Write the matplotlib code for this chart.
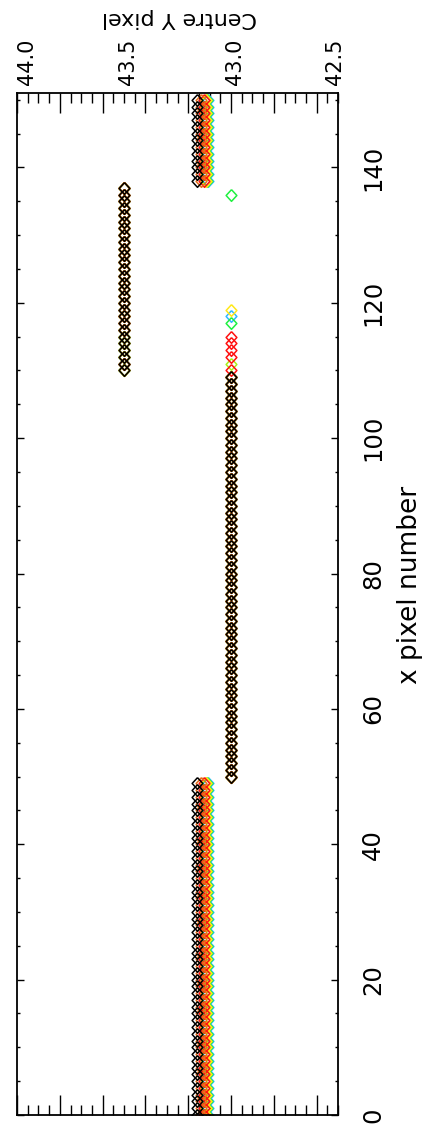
import numpy as np
import matplotlib
matplotlib.use("Agg")
import matplotlib.pyplot as plt
from matplotlib.ticker import MultipleLocator
from matplotlib.transforms import offset_copy

# Centre Y pixel per x pixel, stored as (first x, last x, centre value) runs
black_runs = [(0, 49, 43.16), (50, 109, 43.00), (110, 137, 43.50), (138, 150, 43.16)]
orange_runs = [(0, 49, 43.142), (50, 109, 43.00), (110, 137, 43.50), (138, 150, 43.142)]
red_runs = [(0, 49, 43.125), (50, 110, 43.00), (111, 111, 43.50), (112, 115, 43.00),
            (116, 137, 43.50), (138, 150, 43.125)]
yellow_runs = [(0, 49, 43.118), (50, 109, 43.00), (110, 118, 43.50), (119, 119, 43.00),
               (120, 137, 43.50), (138, 150, 43.118)]
yellowgreen_runs = [(0, 49, 43.115), (50, 109, 43.00), (110, 110, 43.50), (111, 111, 43.00),
                    (112, 137, 43.50), (138, 150, 43.115)]
green_runs = [(0, 49, 43.113), (50, 109, 43.00), (110, 116, 43.50), (117, 117, 43.00),
              (118, 135, 43.50), (136, 136, 43.00), (137, 137, 43.50), (138, 150, 43.113)]
cyan_runs = [(0, 49, 43.108), (50, 109, 43.00), (110, 117, 43.50), (118, 118, 43.00),
             (119, 137, 43.50), (138, 150, 43.108)]

series_names = ["cyan", "green", "yellowgreen", "yellow", "red", "orange", "black"]
series_runs = {"black": black_runs, "orange": orange_runs, "red": red_runs,
               "yellow": yellow_runs, "yellowgreen": yellowgreen_runs,
               "green": green_runs, "cyan": cyan_runs}
series_colors = {"black": "#000000", "orange": "#E8701A", "red": "#FF1010",
                 "yellow": "#FFE81A", "yellowgreen": "#A8F01A", "green": "#20F040",
                 "cyan": "#30B8FF"}

y_ticklabels = ["44.0", "43.5", "43.0", "42.5"]
y_label_values = [44.0, 43.5, 43.0, 42.5]
y_label_shift_px = [10, 4, 3.5, -3.5]


def expand(runs):
    xs, ys = [], []
    for first, last, value in runs:
        for xp in range(first, last + 1):
            xs.append(xp)
            ys.append(value)
    return np.array(xs), np.array(ys)


W, H = 424, 1131
fig = plt.figure(figsize=(W / 100, H / 100), dpi=100)
left, right, top, bottom = 17, 338, 93, 1115
ax = fig.add_axes([left / W, (H - bottom) / H, (right - left) / W, (bottom - top) / H])

# open diamonds, slightly taller than wide
diamond = [(0, 1.0), (0.92, 0), (0, -1.0), (-0.92, 0), (0, 1.0)]
for name in series_names:
    xp, cy = expand(series_runs[name])
    ax.plot(cy, xp, linestyle="none", marker=diamond, markersize=8.4,
            markerfacecolor="none", markeredgecolor=series_colors[name],
            markeredgewidth=1.1)

ax.set_xlim(44.0, 42.5)
ax.set_ylim(0, 151)

for s in ax.spines.values():
    s.set_linewidth(1.3)
    s.set_color("black")

ax.xaxis.set_major_locator(MultipleLocator(0.2))
ax.xaxis.set_minor_locator(MultipleLocator(0.05))
ax.yaxis.set_major_locator(MultipleLocator(20))
ax.yaxis.set_minor_locator(MultipleLocator(5))

ax.tick_params(axis="x", which="both", direction="in", top=True, bottom=True,
               labelbottom=False, labeltop=False, width=1.0, color="black")
ax.tick_params(axis="x", which="major", length=14.4)
ax.tick_params(axis="x", which="minor", length=7.2)
ax.tick_params(axis="y", which="both", direction="in", left=True, right=True,
               labelleft=False, labelright=True, width=1.0, color="black")
ax.tick_params(axis="y", which="major", length=5.0, pad=16.5, labelsize=17.5,
               labelrotation=90)
ax.tick_params(axis="y", which="minor", length=2.5)
for t in ax.yaxis.get_major_ticks():
    t.label2.set_verticalalignment("center")
    t.label2.set_horizontalalignment("left")

# Centre Y tick labels along the top edge
for v, txt, dx in zip(y_label_values, y_ticklabels, y_label_shift_px):
    tr = offset_copy(ax.get_xaxis_transform(), fig=fig, x=dx * 0.72, y=8 * 0.72,
                     units="points")
    ax.text(v, 1.0, txt, transform=tr, rotation=90, ha="center", va="bottom",
            fontsize=15)

ax.text(1.245, 0.5186, "x pixel number", transform=ax.transAxes, rotation=90,
        rotation_mode="anchor", ha="center", va="baseline", fontsize=19)
ax.text(0.5047, 1.0793, "Centre Y pixel", transform=ax.transAxes, rotation=180,
        rotation_mode="anchor", ha="center", va="baseline", fontsize=16)

fig.savefig("out.png", dpi=100)
